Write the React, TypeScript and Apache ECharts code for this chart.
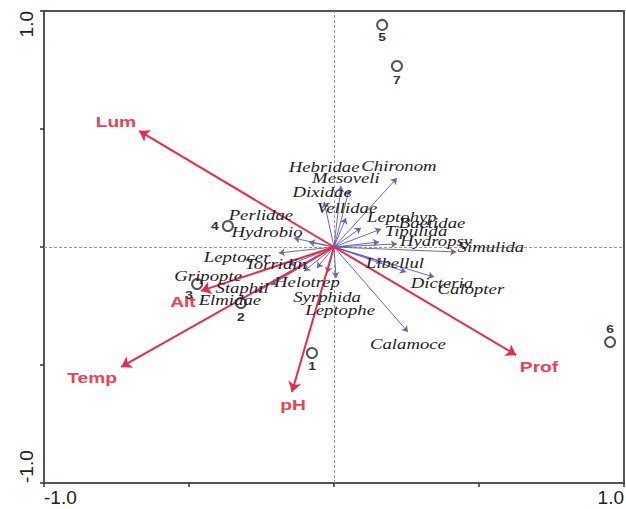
import React, { useEffect, useRef } from "react";
import * as echarts from "echarts";

// ---- Data (CCA biplot) ----
const speciesNames = [
  "Hebridae", "Chironom", "Mesoveli", "Dixidae", "Vellidae", "Leptohyp",
  "Baetidae", "Tipulida", "Hydropsy", "Simulida", "Libellul", "Dicteria",
  "Calopter", "Calamoce", "Leptophe", "Syrphida", "Helotrep", "Torridin",
  "Leptocer", "Hydrobio", "Perlidae", "Staphil", "Gripopte", "Elmidae",
];
const speciesX = [
  0.024, 0.217, 0.052, -0.034, 0.041, 0.093,
  0.162, 0.155, 0.217, 0.421, 0.248, 0.345,
  0.166, 0.255, 0.007, -0.024, -0.059, -0.103,
  -0.19, -0.138, -0.086, -0.217, -0.155, -0.266,
];
const speciesY = [
  0.258, 0.292, 0.242, 0.191, 0.123, 0.081,
  0.076, 0.021, 0.013, -0.021, -0.106, -0.127,
  -0.064, -0.36, -0.131, -0.11, -0.089, -0.102,
  -0.025, 0.038, 0.021, -0.161, -0.076, -0.191,
];
const speciesLabelX = [
  -0.034, 0.224, 0.041, -0.041, 0.045, 0.234,
  0.338, 0.283, 0.352, 0.541, 0.21, 0.372,
  0.472, 0.255, 0.021, -0.024, -0.093, -0.2,
  -0.334, -0.231, -0.252, -0.317, -0.434, -0.359,
];
const speciesLabelY = [
  0.339, 0.343, 0.292, 0.233, 0.165, 0.127,
  0.102, 0.068, 0.025, 0.0, -0.068, -0.153,
  -0.178, -0.411, -0.267, -0.212, -0.148, -0.072,
  -0.042, 0.064, 0.136, -0.174, -0.123, -0.225,
];

const envNames = ["Lum", "Temp", "Alt", "pH", "Prof"];
const envX = [-0.672, -0.734, -0.459, -0.145, 0.628];
const envY = [0.492, -0.508, -0.186, -0.614, -0.458];
const envLabelX = [-0.752, -0.834, -0.521, -0.141, 0.707];
const envLabelY = [0.53, -0.555, -0.233, -0.669, -0.508];

const siteNames = ["1", "2", "3", "4", "5", "6", "7"];
const siteX = [-0.076, -0.321, -0.472, -0.366, 0.166, 0.952, 0.217];
const siteY = [-0.449, -0.237, -0.157, 0.089, 0.941, -0.403, 0.767];

const tickValues = [-1, 1];
const tickLabels = ["-1.0", "1.0"];

// ---- Styles ----
const siteLabelOffset: Record<string, number[]> = {
  "1": [0, 14], "2": [0, 15], "3": [-8, 11], "4": [-13, 0],
  "5": [0, 13], "6": [0, -13], "7": [0, 14],
};

const tickFormatter = (v: number) => {
  const i = tickValues.findIndex((t) => Math.abs(t - v) < 1e-9);
  return i >= 0 ? tickLabels[i] : "";
};

export default function App() {
  const ref = useRef<HTMLDivElement>(null);

  useEffect(() => {
    const chart = echarts.init(ref.current!, null, { renderer: "svg" });

    const makeText =
      (
        names: string[],
        style: any,
        scaleX: number,
        offsets?: Record<string, number[]>
      ) =>
      (params: any, api: any) => {
        const p = api.coord([api.value(0), api.value(1)]);
        const name = names[params.dataIndex];
        const off = offsets ? offsets[name] : [0, 0];
        return {
          type: "text",
          x: p[0] + off[0],
          y: p[1] + off[1],
          scaleX,
          silent: true,
          style: {
            text: name,
            align: "center",
            verticalAlign: "middle",
            ...style,
          },
        };
      };

    const axisCommon = {
      type: "value",
      min: -1,
      max: 1,
      interval: 0.5,
      splitLine: { show: false },
      axisLine: { show: true, onZero: false, lineStyle: { color: "#555", width: 2 } },
      axisTick: { show: true, length: 4, lineStyle: { color: "#333", width: 1.5 } },
    };

    chart.setOption({
      animation: false,
      backgroundColor: "#fff",
      grid: {
        left: 44,
        top: 11,
        width: 580,
        height: 472,
        show: true,
        borderColor: "#555",
        borderWidth: 2,
        containLabel: false,
        outerBoundsMode: "none",
      },
      xAxis: {
        ...axisCommon,
        axisLabel: {
          formatter: tickFormatter,
          fontFamily: "Liberation Sans",
          fontSize: 19,
          color: "#222",
          margin: 5,
          alignMinLabel: "left",
          alignMaxLabel: "right",
          showMinLabel: true,
          showMaxLabel: true,
        },
      },
      yAxis: {
        ...axisCommon,
        axisLabel: {
          formatter: tickFormatter,
          fontFamily: "Liberation Sans",
          fontSize: 19,
          color: "#222",
          rotate: 90,
          margin: 8,
          alignMinLabel: "left",
          alignMaxLabel: "right",
          showMinLabel: true,
          showMaxLabel: true,
        },
      },
      series: [
        {
          type: "lines",
          coordinateSystem: "cartesian2d",
          silent: true,
          z: 1,
          lineStyle: { color: "#9a9a9a", width: 1, type: [3, 2], opacity: 1 },
          data: [
            { coords: [[0, -1], [0, 1]] },
            { coords: [[-1, 0], [1, 0]] },
          ],
        },
        {
          type: "lines",
          coordinateSystem: "cartesian2d",
          silent: true,
          z: 2,
          symbol: ["none", "arrow"],
          symbolSize: 6,
          lineStyle: { color: "#5a5ab4", width: 1, opacity: 0.9 },
          data: speciesNames.map((_, i) => ({
            coords: [[0, 0], [speciesX[i], speciesY[i]]],
          })),
        },
        {
          type: "lines",
          coordinateSystem: "cartesian2d",
          silent: true,
          z: 3,
          symbol: ["none", "arrow"],
          symbolSize: 10,
          lineStyle: { color: "#ee2a46", width: 2, opacity: 1 },
          data: envNames.map((_, i) => ({
            coords: [[0, 0], [envX[i], envY[i]]],
          })),
        },
        {
          type: "scatter",
          silent: true,
          z: 4,
          symbol: "emptyCircle",
          symbolSize: 10,
          itemStyle: { color: "#2a2a2a", borderWidth: 1.6 },
          data: siteX.map((x, i) => [x, siteY[i]]),
        },
        {
          type: "custom",
          z: 5,
          silent: true,
          encode: { x: 0, y: 1 },
          renderItem: makeText(
            speciesNames,
            {
              fill: "#1d1d24",
              fontFamily: "Liberation Serif",
              fontStyle: "italic",
              fontSize: 15,
            },
            1.25
          ),
          data: speciesLabelX.map((x, i) => [x, speciesLabelY[i]]),
        },
        {
          type: "custom",
          z: 6,
          silent: true,
          encode: { x: 0, y: 1 },
          renderItem: makeText(
            envNames,
            {
              fill: "#f0414f",
              fontFamily: "Liberation Sans",
              fontWeight: "bold",
              fontSize: 15,
            },
            1.28
          ),
          data: envLabelX.map((x, i) => [x, envLabelY[i]]),
        },
        {
          type: "custom",
          z: 6,
          silent: true,
          encode: { x: 0, y: 1 },
          renderItem: makeText(
            siteNames,
            {
              fill: "#333",
              fontFamily: "Liberation Sans",
              fontWeight: "bold",
              fontSize: 11,
            },
            1.25,
            siteLabelOffset
          ),
          data: siteX.map((x, i) => [x, siteY[i]]),
        },
      ],
    });

    return () => chart.dispose();
  }, []);

  return (
    <div
      ref={ref}
      style={{ position: "fixed", left: 0, top: 0, width: 626, height: 509 }}
    />
  );
}
